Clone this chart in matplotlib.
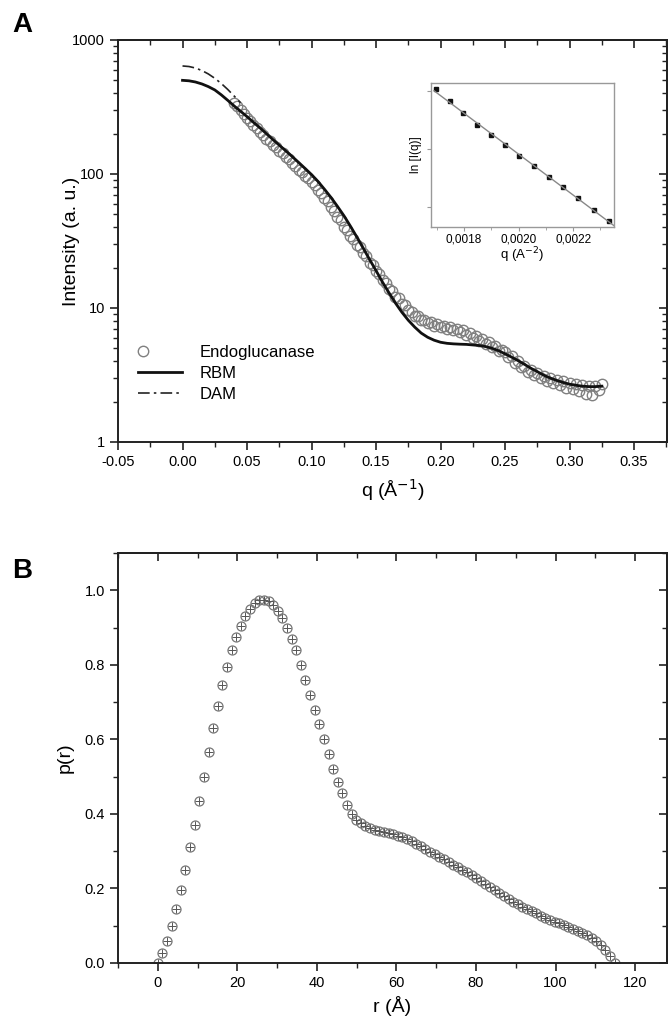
import numpy as np
import matplotlib
matplotlib.use('Agg')
import matplotlib.pyplot as plt
from matplotlib.legend_handler import HandlerLine2DCompound
from matplotlib.ticker import FixedLocator, MultipleLocator, LogLocator, NullFormatter, FormatStrFormatter

plt.rcParams['font.family'] = ['Liberation Sans', 'DejaVu Sans']
plt.rcParams['axes.unicode_minus'] = False

# ---- panel A: scattering curve ----
q_exp = np.linspace(0.040, 0.325, 115)
I_exp = [340, 322, 300, 281, 262, 248, 231, 220, 207, 197, 184, 176, 166, 159, 149, 143,
         135, 129, 120, 115, 108, 103, 96, 93, 87, 82.5, 76.5, 72.5, 66.5, 62.5, 56.5, 53,
         47.5, 45, 40.5, 38.5, 34.7, 33, 29.7, 28.3, 25.8, 24.3, 21.8, 20.8, 18.9, 17.9,
         16.1, 15.3, 13.9, 13.3, 12.1, 11.8, 10.8, 10.5, 9.6, 9.4, 8.7, 8.7, 8.1, 8.2, 7.7,
         7.8, 7.4, 7.6, 7.2, 7.4, 7.0, 7.2, 6.8, 7.0, 6.6, 6.8, 6.3, 6.5, 6.0, 6.2, 5.7,
         5.85, 5.4, 5.55, 5.1, 5.2, 4.8, 4.9, 4.7, 4.3, 4.35, 3.9, 4.0, 3.6, 3.7, 3.35,
         3.45, 3.15, 3.25, 3.0, 3.1, 2.85, 3.0, 2.75, 2.9, 2.65, 2.85, 2.55, 2.75, 2.5,
         2.7, 2.4, 2.65, 2.3, 2.6, 2.25, 2.6, 2.45, 2.7]

q_rbm = np.linspace(0.0, 0.325, 66)
I_rbm = [500, 496, 486, 470, 449, 424, 390, 355, 322, 294, 268, 243, 221, 200, 181, 164,
         149, 135, 122, 110, 99, 88, 77, 67, 57.5, 49, 41, 34, 28, 23, 19, 15.6, 13.0,
         10.9, 9.3, 8.1, 7.2, 6.5, 6.05, 5.75, 5.55, 5.45, 5.4, 5.37, 5.35, 5.3, 5.25,
         5.15, 5.0, 4.8, 4.55, 4.3, 4.05, 3.8, 3.55, 3.35, 3.15, 3.0, 2.88, 2.78, 2.7,
         2.65, 2.61, 2.59, 2.59, 2.61]

q_dam = np.linspace(0.0, 0.045, 10)
I_dam = [640, 634, 618, 592, 558, 518, 474, 428, 382, 340]

# inset: Guinier plot
q2_guinier = [0.001697, 0.001748, 0.001797, 0.001849, 0.001899, 0.001952, 0.002003,
              0.002057, 0.002110, 0.002162, 0.002218, 0.002275, 0.002333]
lnI_guinier = [5.803, 5.783, 5.762, 5.741, 5.724, 5.706, 5.688, 5.670, 5.652, 5.634,
               5.615, 5.594, 5.576]

# ---- panel B: distance distribution ----
r_vals = np.linspace(0.0, 114.84, 100)
p_vals = [0.0, 0.027, 0.060, 0.100, 0.144, 0.197, 0.25, 0.31, 0.37, 0.435, 0.50, 0.565,
          0.63, 0.69, 0.745, 0.795, 0.84, 0.875, 0.905, 0.93, 0.95, 0.965, 0.973, 0.975,
          0.97, 0.96, 0.945, 0.925, 0.90, 0.87, 0.84, 0.80, 0.76, 0.72, 0.68, 0.64, 0.60,
          0.56, 0.52, 0.485, 0.455, 0.425, 0.40, 0.385, 0.375, 0.368, 0.362, 0.358, 0.355,
          0.352, 0.349, 0.346, 0.342, 0.338, 0.333, 0.327, 0.320, 0.313, 0.306, 0.299,
          0.292, 0.285, 0.278, 0.271, 0.264, 0.257, 0.250, 0.243, 0.236, 0.228, 0.220,
          0.212, 0.204, 0.196, 0.188, 0.180, 0.172, 0.165, 0.158, 0.151, 0.145, 0.139,
          0.133, 0.127, 0.121, 0.116, 0.111, 0.106, 0.101, 0.096, 0.091, 0.086, 0.080,
          0.074, 0.067, 0.059, 0.049, 0.036, 0.020, 0.0]

W, H = 669, 1025
fig = plt.figure(figsize=(W / 100, H / 100), dpi=100)


def rect(x0, y0, x1, y1):
    return [x0 / W, 1 - y1 / H, (x1 - x0) / W, (y1 - y0) / H]


def style_axes(ax):
    for s in ax.spines.values():
        s.set_linewidth(1.4)
        s.set_color('#222222')
    ax.tick_params(which='both', direction='out', color='#222222', labelsize=10.5)
    ax.tick_params(which='major', length=6, width=1.2)
    ax.tick_params(which='minor', length=3.5, width=1.0)


class LeftMarker(HandlerLine2DCompound):
    # marker sits at the left end of the legend handle
    def get_xdata(self, legend, xdescent, ydescent, width, height, fontsize):
        xd, _ = super().get_xdata(legend, xdescent, ydescent, width, height, fontsize)
        return xd, np.array([-xdescent + 0.1 * width])


# top panel
ax1 = fig.add_axes(rect(118, 40, 667, 442))
ax1.set_yscale('log')
h_exp, = ax1.plot(q_exp, I_exp, 'o', ms=7.5, mfc='none', mec='#808080', mew=1.0, label='Endoglucanase')
ax1.plot(q_rbm, I_rbm, '-', color='#111111', lw=2.0, label='RBM')
ax1.plot(q_dam, I_dam, '-.', color='#222222', lw=1.2, dashes=(7, 2.5, 1.5, 2.5), label='DAM')
ax1.set_xlim(-0.05, 0.3755)
ax1.set_ylim(1, 1000)
ax1.xaxis.set_major_locator(MultipleLocator(0.05))
ax1.xaxis.set_minor_locator(MultipleLocator(0.025))
ax1.xaxis.set_major_formatter(FormatStrFormatter('%.2f'))
ax1.yaxis.set_major_locator(FixedLocator([1, 10, 100, 1000]))
ax1.yaxis.set_minor_locator(LogLocator(base=10, subs=np.arange(2, 10)))
ax1.yaxis.set_minor_formatter(NullFormatter())
ax1.set_yticklabels(['1', '10', '100', '1000'])
style_axes(ax1)
ax1.set_xlabel('q (\u00c5$^{-1}$)', fontsize=14, labelpad=6)
ax1.set_ylabel('Intensity (a. u.)', fontsize=14, labelpad=-6)

sx1 = ax1.secondary_xaxis('top')
sx1.xaxis.set_major_locator(MultipleLocator(0.05))
sx1.xaxis.set_minor_locator(MultipleLocator(0.025))
sy1 = ax1.secondary_yaxis('right')
sy1.yaxis.set_major_locator(FixedLocator([1, 10, 100, 1000]))
sy1.yaxis.set_minor_locator(LogLocator(base=10, subs=np.arange(2, 10)))
for s in (sx1, sy1):
    style_axes(s)
    s.tick_params(which='both', direction='in', labeltop=False, labelright=False)

leg = ax1.legend(loc='lower left', bbox_to_anchor=(0.022, 0.08), frameon=False, fontsize=12,
                 handlelength=2.6, handletextpad=1.05, labelspacing=0.35, borderpad=0,
                 handler_map={h_exp: LeftMarker()})

# inset
axi = fig.add_axes(rect(431, 83, 614, 227))
axi.plot(q2_guinier, lnI_guinier, 's', ms=2.8, color='#111111')
fit = np.polyfit(q2_guinier, lnI_guinier, 1)
xf = np.array([0.00169, 0.00235])
axi.plot(xf, np.polyval(fit, xf), '-', color='#888888', lw=1.0)
axi.set_xlim(0.001679, 0.00235)
axi.set_ylim(5.565, 5.814)
axi.xaxis.set_major_locator(FixedLocator([0.0018, 0.0020, 0.0022]))
axi.xaxis.set_minor_locator(FixedLocator([0.0017, 0.0019, 0.0021, 0.0023]))
axi.set_xticklabels(['0,0018', '0,0020', '0,0022'])
axi.yaxis.set_major_locator(FixedLocator([5.6, 5.7, 5.8]))
axi.set_yticklabels([])
for s in axi.spines.values():
    s.set_color('#999999')
    s.set_linewidth(1.0)
axi.tick_params(which='both', direction='out', color='#999999', labelsize=8.5, pad=1.5)
axi.tick_params(which='major', length=3)
axi.tick_params(which='minor', length=2)
axi.set_xlabel('q (A$^{-2}$)', fontsize=9.5, labelpad=0)
axi.set_ylabel('ln [I(q)]', fontsize=8.5, labelpad=2)

# bottom panel
ax2 = fig.add_axes(rect(118, 553, 667, 963))
ax2.plot(r_vals, p_vals, 'o', ms=6.5, mfc='none', mec='#777777', mew=0.9)
ax2.plot(r_vals, p_vals, '+', ms=6.0, color='#555555', mew=0.7)
ax2.set_xlim(-10, 128)
ax2.set_ylim(0, 1.1)
ax2.xaxis.set_major_locator(MultipleLocator(20))
ax2.xaxis.set_minor_locator(MultipleLocator(10))
ax2.yaxis.set_major_locator(MultipleLocator(0.2))
ax2.yaxis.set_minor_locator(MultipleLocator(0.1))
ax2.yaxis.set_major_formatter(FormatStrFormatter('%.1f'))
style_axes(ax2)
ax2.set_xlabel('r (\u00c5)', fontsize=14, labelpad=4)
ax2.set_ylabel('p(r)', fontsize=14, labelpad=8)
sx2 = ax2.secondary_xaxis('top')
sx2.xaxis.set_major_locator(MultipleLocator(20))
sx2.xaxis.set_minor_locator(MultipleLocator(10))
sy2 = ax2.secondary_yaxis('right')
sy2.yaxis.set_major_locator(MultipleLocator(0.2))
sy2.yaxis.set_minor_locator(MultipleLocator(0.1))
for s in (sx2, sy2):
    style_axes(s)
    s.tick_params(which='both', direction='in', labeltop=False, labelright=False)

fig.text(12 / W, 1 - 25 / H, 'A', fontsize=20, fontweight='bold', va='center', ha='left')
fig.text(12 / W, 1 - 571 / H, 'B', fontsize=20, fontweight='bold', va='center', ha='left')

fig.savefig('out.png', dpi=100)
